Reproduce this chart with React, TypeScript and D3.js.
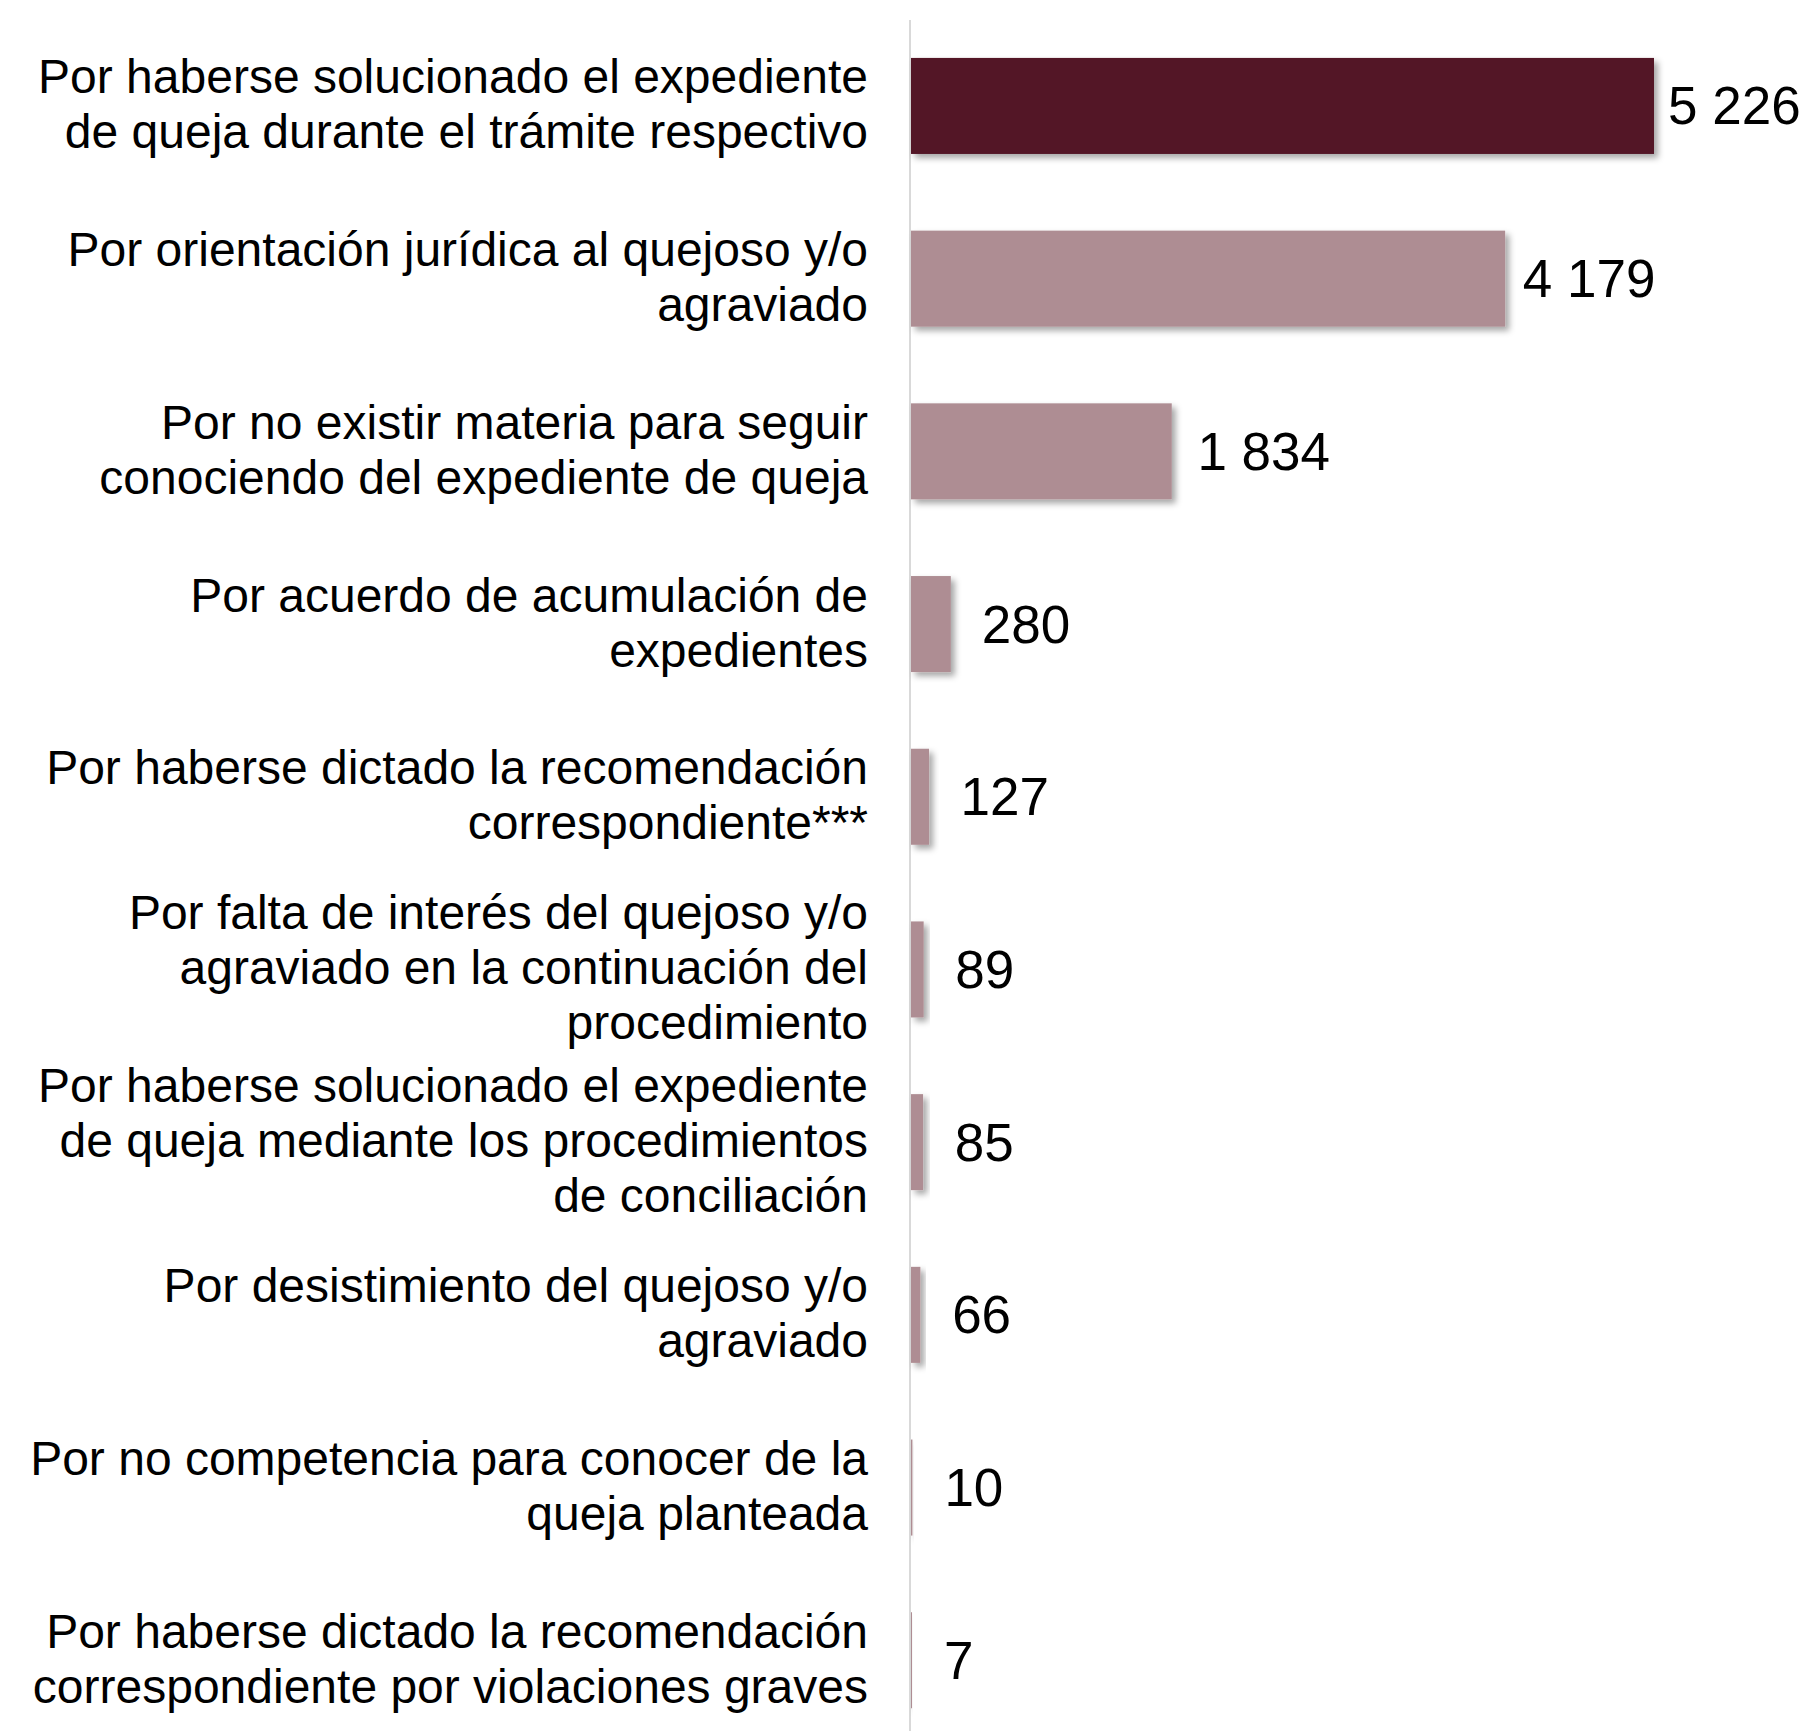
import React from "react";
import * as d3 from "d3";

const categories: string[][] = [
  ["Por haberse solucionado el expediente", "de queja durante el trámite respectivo"],
  ["Por orientación jurídica al quejoso y/o", "agraviado"],
  ["Por no existir materia para seguir", "conociendo del expediente de queja"],
  ["Por acuerdo de acumulación de", "expedientes"],
  ["Por haberse dictado la recomendación", "correspondiente***"],
  ["Por falta de interés del quejoso y/o", "agraviado en la continuación del", "procedimiento"],
  ["Por haberse solucionado el expediente", "de queja mediante los procedimientos", "de conciliación"],
  ["Por desistimiento del quejoso y/o", "agraviado"],
  ["Por no competencia para conocer de la", "queja planteada"],
  ["Por haberse dictado la recomendación", "correspondiente por violaciones graves"],
];

const values: number[] = [5226, 4179, 1834, 280, 127, 89, 85, 66, 10, 7];

const valueLabels: string[] = ["5 226", "4 179", "1 834", "280", "127", "89", "85", "66", "10", "7"];

const W = 1814;
const H = 1731;
const FONT = "Liberation Sans, Arial, Helvetica, sans-serif";

export default function App() {
  const ids = values.map((_, i) => String(i));
  const max = d3.max(values) as number;

  const x = d3.scaleLinear().domain([0, max]).range([911, 1654]);
  const xLabel = d3.scaleLinear().domain([0, max]).range([943, 1668]);
  const y = d3
    .scaleBand<string>()
    .domain(ids)
    .range([19.6, 19.6 + 1727])
    .paddingInner(0.444)
    .paddingOuter(0.222);

  const catFont = 48;
  const lineH = 55;
  const valFont = 53;

  return (
    <svg
      width={W}
      height={H}
      style={{ position: "absolute", left: 0, top: 0, background: "#fff" }}
    >
      <defs>
        <filter id="shadow" x="-50%" y="-50%" width="200%" height="200%">
          <feDropShadow dx="4" dy="4" stdDeviation="3" floodColor="#000" floodOpacity="0.35" />
        </filter>
      </defs>
      <rect x={0} y={0} width={W} height={H} fill="#fff" />
      <line x1={910} x2={910} y1={20} y2={H} stroke="#d9d9d9" strokeWidth={2} />
      {values.map((v, i) => {
        const yy = y(String(i)) as number;
        const bw = y.bandwidth();
        const cy = yy + bw / 2;
        const lines = categories[i];
        return (
          <g key={i}>
            <rect
              x={x(0)}
              y={yy}
              width={Math.max(0, x(v) - x(0))}
              height={bw}
              fill={i === 0 ? "#521628" : "#ae8d93"}
              filter="url(#shadow)"
            />
            <text
              x={xLabel(v)}
              y={cy + 18.5}
              style={{ fontFamily: FONT, fontSize: valFont }}
              fill="#000"
            >
              {valueLabels[i]}
            </text>
            <text textAnchor="end" style={{ fontFamily: FONT, fontSize: catFont }} fill="#000">
              {lines.map((ln, j) => (
                <tspan key={j} x={868} y={cy + (j - (lines.length - 1) / 2) * lineH + 15}>
                  {ln}
                </tspan>
              ))}
            </text>
          </g>
        );
      })}
    </svg>
  );
}
